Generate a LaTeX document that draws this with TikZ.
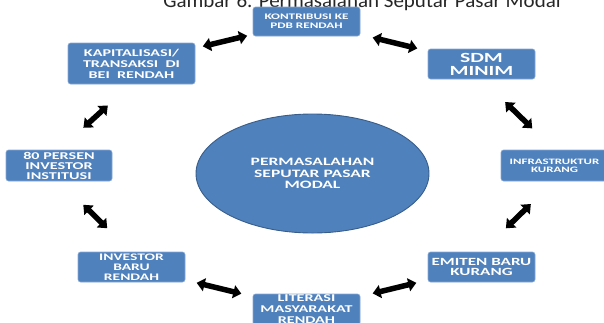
\documentclass[tikz,border=0pt]{standalone}
\usepackage{fontspec}
\setmainfont{Carlito}
\newfontfamily\boxfont[FakeStretch=1.55]{Carlito}
\newfontfamily\titlefont[FakeStretch=1.05]{Carlito}
\usetikzlibrary{arrows.meta,shapes.geometric}
\definecolor{boxblue}{RGB}{79,129,189}
\definecolor{boxedge}{RGB}{135,168,212}
\definecolor{elledge}{RGB}{56,93,138}
\tikzset{
  probbox/.style={draw=boxedge, line width=0.6pt, fill=boxblue, rounded corners=2.5pt,
    inner sep=0pt, outer sep=0pt, text=white, align=center},
  hub/.style={ellipse, draw=elledge, line width=0.9pt, fill=boxblue, inner sep=0pt,
    outer sep=0pt, text=white, align=center, minimum width=233pt, minimum height=119pt},
  link/.style={line width=5.5pt, {Triangle[width=13pt,length=8pt]}-{Triangle[width=13pt,length=8pt]}}
}
\begin{document}
\begin{tikzpicture}[x=1pt,y=-1pt]
\useasboundingbox (0,0) rectangle (604,322);
\clip (0,0) rectangle (604,322);
\node[anchor=base, font=\titlefont\fontsize{20}{20}\selectfont, text=black!85] (title) at (362,7) {Gambar 6. Permasalahan Seputar Pasar Modal};

\node[hub, font=\boxfont\bfseries\fontsize{11.3}{11.5}\selectfont] (hub) at (312.5,173.5) {PERMASALAHAN\\SEPUTAR PASAR\\MODAL};

\node[probbox, minimum width=107pt, minimum height=29pt, font=\boxfont\bfseries\fontsize{8.5}{8.7}\selectfont] (kontribusi) at (306.5,21.5) {KONTRIBUSI KE\\PDB RENDAH};
\node[probbox, minimum width=127pt, minimum height=41pt, font=\boxfont\bfseries\fontsize{10.4}{11}\selectfont] (kapital) at (131.5,63.5) {KAPITALISASI/\\TRANSAKSI\ \ DI\\BEI\ \ RENDAH};
\node[probbox, minimum width=107pt, minimum height=30pt, font=\boxfont\bfseries\fontsize{14}{13}\selectfont] (sdm) at (481.5,64) {SDM\\MINIM};
\node[probbox, minimum width=106pt, minimum height=31pt, font=\boxfont\bfseries\fontsize{10.4}{10}\selectfont] (persen) at (59,165.5) {80 PERSEN\\INVESTOR\\INSTITUSI};
\node[probbox, minimum width=107pt, minimum height=31pt, font=\boxfont\bfseries\fontsize{8.3}{8}\selectfont] (infra) at (554.5,165.5) {INFRASTRUKTUR\\KURANG};
\node[probbox, minimum width=107pt, minimum height=30pt, font=\boxfont\bfseries\fontsize{10}{10}\selectfont] (investor) at (131.5,267) {INVESTOR\\BARU\\RENDAH};
\node[probbox, minimum width=107pt, minimum height=30pt, font=\boxfont\bfseries\fontsize{11}{10}\selectfont] (emiten) at (481.5,267) {EMITEN BARU\\KURANG};
\node[probbox, minimum width=107pt, minimum height=31pt, font=\boxfont\bfseries\fontsize{10.4}{11}\selectfont] (literasi) at (306.5,309.5) {LITERASI\\MASYARAKAT\\RENDAH};

\draw[link, shorten <=8pt, shorten >=6pt] (kapital) -- (kontribusi);
\draw[link, shorten <=13pt, shorten >=11pt] (kontribusi) -- (sdm);
\draw[link, shorten <=33pt, shorten >=31pt] (sdm.south) -- (infra.north);
\draw[link, shorten <=33pt, shorten >=34pt] (infra.south) -- (emiten.north);
\draw[link, shorten <=12pt, shorten >=13pt] (emiten) -- (literasi);
\draw[link, shorten <=12pt, shorten >=12pt] (literasi) -- (investor);
\draw[link, shorten <=34pt, shorten >=34pt] (investor.north) -- (persen.south);
\draw[link, shorten <=33pt, shorten >=32pt] (persen.north) -- (kapital.south);
\end{tikzpicture}
\end{document}
